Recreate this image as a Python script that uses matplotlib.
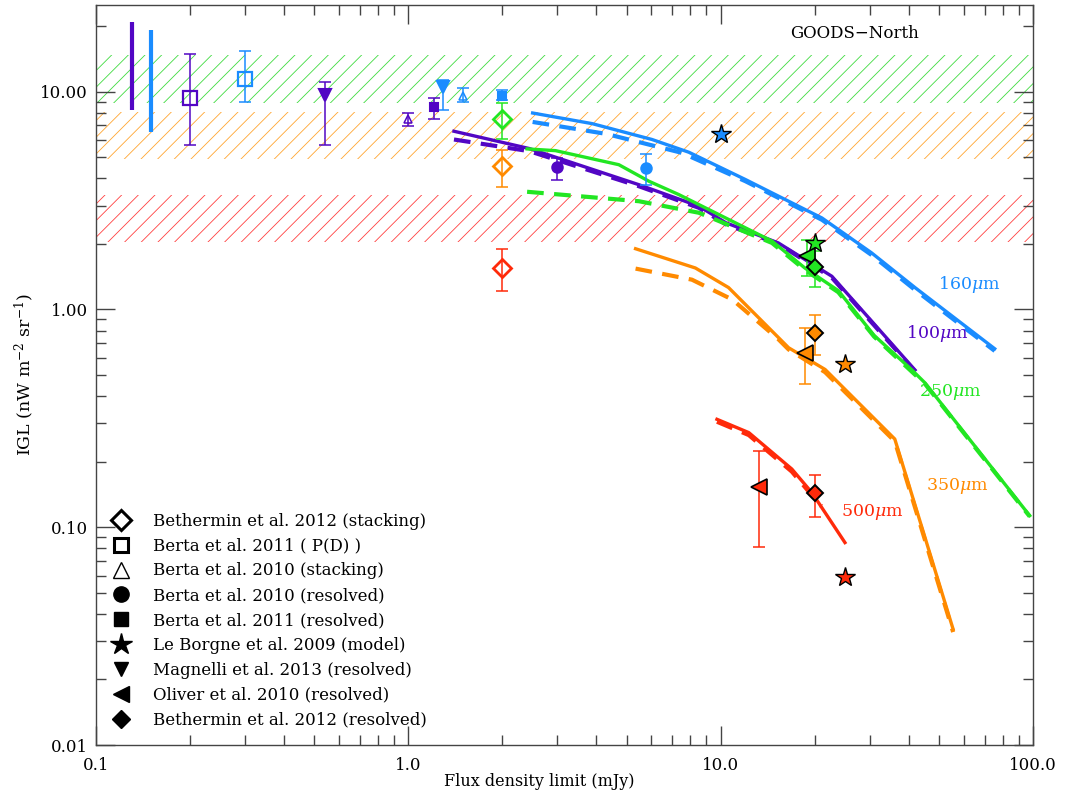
import matplotlib
matplotlib.use('Agg')
import matplotlib.pyplot as plt
from matplotlib.lines import Line2D
from matplotlib.ticker import FixedLocator, FixedFormatter, LogLocator, NullFormatter

plt.rcParams['font.family'] = ['DejaVu Serif']
plt.rcParams['mathtext.fontset'] = 'dejavuserif'
plt.rcParams['hatch.linewidth'] = 0.6

COLORS = {
    '100': '#5206c4',
    '160': '#1a8cff',
    '250': '#22e622',
    '350': '#ff8a00',
    '500': '#ff2a0a',
}
HATCH_COLORS = {'250': '#3fdc3f', '350': '#ffa530', '500': '#ff4040'}

# total IGL ranges (hatched bands)
band_names = ['250', '350', '500']
band_lo = [8.9, 4.9, 2.03]
band_hi = [14.8, 8.1, 3.37]

# total IGL at 100 and 160 um (vertical bars at left)
cib_names = ['100', '160']
cib_x = [0.13, 0.15]
cib_lo = [8.26, 6.55]
cib_hi = [20.9, 19.2]

# model curves: cumulative IGL above flux limit (solid) and resolved (dashed)
curve_x = {
    '160': [2.5, 3.88, 6.03, 7.91, 12.0, 21.1, 30.4, 41.9, 75.4],
    '100': [1.40, 2.44, 5.47, 8.51, 10.4, 15.3, 22.7, 41.9],
    '250': [2.40, 2.96, 4.72, 5.89, 7.34, 14.6, 18.6, 23.8, 31.0, 40.8, 45.1, 97.6],
    '350': [5.34, 8.3, 10.6, 16.5, 21.6, 36.1, 55.5],
    '500': [9.73, 12.3, 16.9, 19.6, 25.0],
}
curve_y = {
    '160': [7.98, 7.13, 6.03, 5.27, 3.95, 2.63, 1.82, 1.26, 0.66],
    '100': [6.58, 5.48, 3.74, 2.98, 2.50, 2.02, 1.42, 0.527],
    '250': [5.46, 5.36, 4.62, 3.88, 3.37, 2.06, 1.55, 1.22, 0.76, 0.53, 0.46, 0.113],
    '350': [1.90, 1.55, 1.26, 0.667, 0.53, 0.254, 0.034],
    '500': [0.313, 0.272, 0.185, 0.144, 0.085],
}
dash_x = {
    '160': [2.5, 4.3, 7.5, 12.0, 21.1, 30.4, 41.9, 75.4],
    '100': [1.40, 2.44, 5.47, 8.51, 10.4, 15.3, 22.7, 41.9],
    '250': [2.40, 5.47, 8.51, 14.6, 18.6, 23.8, 31.0, 40.8, 45.1, 97.6],
    '350': [5.34, 8.09, 10.9, 15.3, 16.5, 21.6, 36.1, 55.5],
    '500': [9.73, 12.3, 16.9, 19.6, 21.0],
}
dash_y = {
    '160': [7.26, 6.4, 5.24, 3.88, 2.58, 1.78, 1.23, 0.645],
    '100': [6.03, 5.33, 3.68, 2.93, 2.46, 2.0, 1.40, 0.52],
    '250': [3.47, 3.14, 2.78, 2.02, 1.52, 1.20, 0.75, 0.52, 0.455, 0.112],
    '350': [1.54, 1.37, 1.11, 0.73, 0.655, 0.515, 0.248, 0.033],
    '500': [0.305, 0.265, 0.180, 0.140, 0.125],
}

# measurements: band, flux limit, IGL, lower, upper
beth_stack_band = ['250', '350', '500']
beth_stack_x = [2.0, 2.0, 2.0]
beth_stack_y = [7.5, 4.54, 1.55]
beth_stack_lo = [6.07, 3.64, 1.21]
beth_stack_hi = [8.87, 5.42, 1.90]

berta_pd_band = ['100', '160']
berta_pd_x = [0.2, 0.3]
berta_pd_y = [9.4, 11.4]
berta_pd_lo = [5.7, 8.93]
berta_pd_hi = [14.9, 15.4]

berta10_stack_band = ['100', '160']
berta10_stack_x = [1.0, 1.5]
berta10_stack_y = [7.5, 9.6]
berta10_stack_lo = [6.98, 8.93]
berta10_stack_hi = [7.95, 10.35]

berta10_res_band = ['100', '160']
berta10_res_x = [3.0, 5.75]
berta10_res_y = [4.52, 4.47]
berta10_res_lo = [3.94, 3.74]
berta10_res_hi = [4.98, 5.16]

berta11_res_band = ['100', '160']
berta11_res_x = [1.21, 2.0]
berta11_res_y = [8.47, 9.6]
berta11_res_lo = [7.46, 9.19]
berta11_res_hi = [9.39, 10.14]

leborgne_band = ['160', '250', '350', '500']
leborgne_x = [10.0, 20.0, 25.0, 25.0]
leborgne_y = [6.36, 2.01, 0.56, 0.059]

magnelli_band = ['100', '160']
magnelli_x = [0.54, 1.29]
magnelli_y = [9.7, 10.5]
magnelli_lo = [5.7, 8.27]
magnelli_hi = [11.1, 11.27]

oliver_band = ['250', '350', '500']
oliver_x = [18.9, 18.6, 13.3]
oliver_y = [1.76, 0.633, 0.153]
oliver_lo = [1.43, 0.456, 0.0815]
oliver_hi = [2.08, 0.82, 0.224]

beth_res_band = ['250', '350', '500']
beth_res_x = [20.0, 20.0, 20.0]
beth_res_y = [1.57, 0.78, 0.143]
beth_res_lo = [1.27, 0.617, 0.112]
beth_res_hi = [1.85, 0.94, 0.173]

label_names = ['160', '100', '250', '350', '500']
label_x = [49.6, 39.3, 43.2, 45.5, 24.2]
label_y = [1.30, 0.776, 0.416, 0.154, 0.118]

legend_labels = [
    'Bethermin et al. 2012 (stacking)',
    'Berta et al. 2011 ( P(D) )',
    'Berta et al. 2010 (stacking)',
    'Berta et al. 2010 (resolved)',
    'Berta et al. 2011 (resolved)',
    'Le Borgne et al. 2009 (model)',
    'Magnelli et al. 2013 (resolved)',
    'Oliver et al. 2010 (resolved)',
    'Bethermin et al. 2012 (resolved)',
]

W, H = 1067, 799
fig = plt.figure(figsize=(W / 100, H / 100), dpi=100)
ax = fig.add_axes([96 / W, 54 / H, 937 / W, 740 / H])
ax.set_xscale('log')
ax.set_yscale('log')
ax.set_xlim(0.1, 100)
ax.set_ylim(0.01, 25)

for name, lo, hi in zip(band_names, band_lo, band_hi):
    ax.axhspan(lo, hi, facecolor='none', edgecolor=HATCH_COLORS[name],
               hatch='//', linewidth=0, zorder=1)

for name, x, lo, hi in zip(cib_names, cib_x, cib_lo, cib_hi):
    ax.vlines(x, lo, hi, color=COLORS[name], linewidth=3, zorder=3)

for name in curve_x:
    ax.plot(dash_x[name], dash_y[name], color=COLORS[name], lw=3,
            ls=(0, (4, 2.5)), zorder=3)
    ax.plot(curve_x[name], curve_y[name], color=COLORS[name], lw=2.4,
            zorder=3)


def points(bands, xs, ys, lo, hi, marker, ms, filled, black_edge=False, mew=1.5):
    for i, b in enumerate(bands):
        c = COLORS[b]
        if lo is not None:
            ax.errorbar([xs[i]], [ys[i]],
                        yerr=[[ys[i] - lo[i]], [hi[i] - ys[i]]],
                        fmt='none', ecolor=c, elinewidth=1.1, capsize=4.5,
                        capthick=1.1, zorder=4)
        ax.plot([xs[i]], [ys[i]], ls='none', marker=marker, markersize=ms,
                markerfacecolor=c if filled else 'none',
                markeredgecolor='black' if black_edge else c,
                markeredgewidth=mew, zorder=5)


points(beth_stack_band, beth_stack_x, beth_stack_y, beth_stack_lo, beth_stack_hi, 'D', 9.5, False, mew=2)
points(berta_pd_band, berta_pd_x, berta_pd_y, berta_pd_lo, berta_pd_hi, 's', 9.5, False, mew=1.6)
points(berta10_stack_band, berta10_stack_x, berta10_stack_y, berta10_stack_lo, berta10_stack_hi, '^', 6, False, mew=1.1)
points(berta10_res_band, berta10_res_x, berta10_res_y, berta10_res_lo, berta10_res_hi, 'o', 7.5, True)
points(berta11_res_band, berta11_res_x, berta11_res_y, berta11_res_lo, berta11_res_hi, 's', 5.5, True)
points(leborgne_band, leborgne_x, leborgne_y, None, None, '*', 15, True, black_edge=True, mew=1.0)
points(magnelli_band, magnelli_x, magnelli_y, magnelli_lo, magnelli_hi, 'v', 9, True)
points(oliver_band, oliver_x, oliver_y, oliver_lo, oliver_hi, '<', 11, True, black_edge=True, mew=1.2)
points(beth_res_band, beth_res_x, beth_res_y, beth_res_lo, beth_res_hi, 'D', 8.5, True, black_edge=True, mew=1.4)

for name, x, y in zip(label_names, label_x, label_y):
    ax.text(x, y, name + r'$\mu$m', color=COLORS[name], fontsize=12.5,
            ha='left', va='center')

ax.text(0.81, 0.962, 'GOODS\u2212North', transform=ax.transAxes,
        fontsize=12, ha='center', va='center')

# legend with black symbols
leg_markers = [('D', False, 10.5, 2.2), ('s', False, 10, 2.2), ('^', False, 11, 1.0),
               ('o', True, 11, 1), ('s', True, 10, 1), ('*', True, 16, 1),
               ('v', True, 10, 1), ('<', True, 11, 1), ('D', True, 9.5, 1)]
handles = [Line2D([], [], ls='none', marker=m, markersize=s,
                  markerfacecolor='black' if f else 'white',
                  markeredgecolor='black', markeredgewidth=ew)
           for m, f, s, ew in leg_markers]
ax.legend(handles, legend_labels, loc='lower left', bbox_to_anchor=(0.004, 0.0066),
          frameon=False, fontsize=12, handlelength=1.2, handletextpad=1.3,
          labelspacing=0.47, borderpad=0.2)

ax.xaxis.set_major_locator(FixedLocator([0.1, 1, 10, 100]))
ax.xaxis.set_major_formatter(FixedFormatter(['0.1', '1.0', '10.0', '100.0']))
ax.yaxis.set_major_locator(FixedLocator([0.01, 0.1, 1, 10]))
ax.yaxis.set_major_formatter(FixedFormatter(['0.01', '0.10', '1.00', '10.00']))
for axis in (ax.xaxis, ax.yaxis):
    axis.set_minor_locator(LogLocator(base=10, subs=range(2, 10)))
    axis.set_minor_formatter(NullFormatter())
ax.tick_params(which='both', direction='in', top=True, right=True,
               color='#444444', labelsize=12)
ax.tick_params(which='major', length=14, width=1)
ax.tick_params(which='minor', length=7, width=1)
ax.tick_params(axis='x', which='major', pad=9)
ax.tick_params(axis='y', which='major', pad=6)
for sp in ax.spines.values():
    sp.set_color('#444444')
    sp.set_linewidth(1.0)

ax.set_xlabel('Flux density limit (mJy)', fontsize=11.5, labelpad=1)
ax.xaxis.set_label_coords(0.473, -0.038)
ax.set_ylabel(r'IGL (nW m$^{-2}$ sr$^{-1}$)', fontsize=12.5)
ax.yaxis.set_label_coords(-0.064, 0.5)

fig.savefig('out.png', dpi=100)
